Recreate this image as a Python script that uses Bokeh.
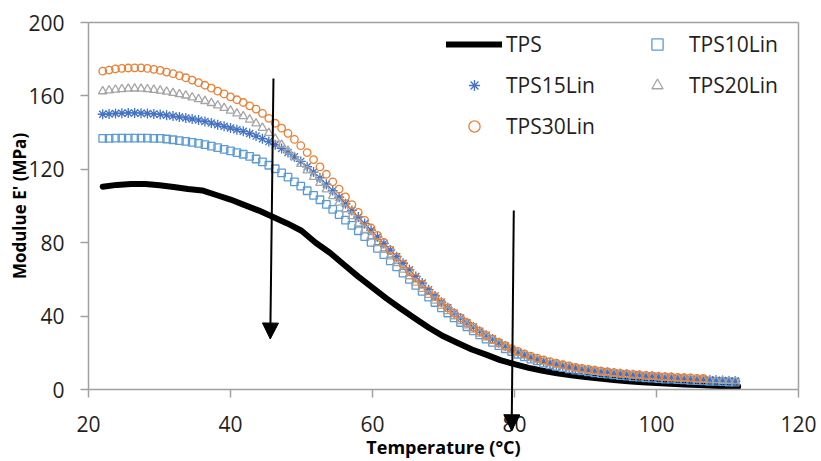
from bokeh.plotting import figure
from bokeh.models import Range1d, Legend, LegendItem, Arrow, NormalHead, LinearAxis, FixedTicker
from bokeh.embed import file_html
from bokeh.resources import INLINE

# ---- data ----
temp = [22.0, 22.9, 23.8, 24.7, 25.6, 26.5, 27.4, 28.3, 29.2, 30.1,
        31.0, 31.9, 32.8, 33.7, 34.6, 35.5, 36.4, 37.3, 38.2, 39.1,
        40.0, 40.9, 41.8, 42.7, 43.6, 44.5, 45.4, 46.3, 47.2, 48.1,
        49.0, 49.9, 50.8, 51.7, 52.6, 53.5, 54.4, 55.3, 56.2, 57.1,
        58.0, 58.9, 59.8, 60.7, 61.6, 62.5, 63.4, 64.3, 65.2, 66.1,
        67.0, 67.9, 68.8, 69.7, 70.6, 71.5, 72.4, 73.3, 74.2, 75.1,
        76.0, 76.9, 77.8, 78.7, 79.6, 80.5, 81.4, 82.3, 83.2, 84.1,
        85.0, 85.9, 86.8, 87.7, 88.6, 89.5, 90.4, 91.3, 92.2, 93.1,
        94.0, 94.9, 95.8, 96.7, 97.6, 98.5, 99.4, 100.3, 101.2, 102.1,
        103.0, 103.9, 104.8, 105.7, 106.6, 107.5, 108.4, 109.3, 110.2, 111.1]

tps_temp = [22, 24, 26, 28, 30, 32, 34, 36, 38, 40, 42, 44, 46, 48, 50, 52, 54, 56,
            58, 60, 62, 64, 66, 68, 70, 72, 74, 76, 78, 80, 82, 84, 86, 88, 90, 92,
            94, 96, 98, 100, 102, 104, 106, 108, 110, 111.5]
tps = [110.5, 111.5, 112, 112, 111.3, 110.3, 109.3, 108.5, 106, 103.5, 100.5, 97.5,
       94, 90.5, 86.5, 80, 74.5, 68, 61.5, 55.5, 49.5, 44, 38.7, 33.5, 29, 25.3, 21.8,
       19, 16, 13.8, 11.8, 10.2, 8.8, 7.7, 6.8, 6, 5.2, 4.5, 4, 3.5, 3.1, 2.7, 2.4,
       2.1, 1.8, 1.6]

tps10 = [136.8, 136.9, 137.0, 137.0, 137.0, 137.0, 137.0, 137.0, 136.9, 136.8,
         136.5, 136.1, 135.6, 135.2, 134.7, 134.1, 133.4, 132.6, 131.8, 130.9,
         130.0, 129.1, 128.2, 127.0, 125.6, 124.0, 122.2, 120.3, 118.0, 115.7,
         113.2, 110.8, 108.3, 105.8, 103.4, 100.9, 98.2, 95.3, 92.3, 89.4,
         86.5, 83.3, 80.2, 76.9, 73.5, 70.1, 66.8, 63.4, 60.0, 56.7,
         53.5, 50.3, 47.4, 44.5, 41.7, 39.0, 36.5, 34.2, 32.0, 29.8,
         27.5, 25.7, 23.9, 22.2, 20.7, 19.2, 17.8, 16.6, 15.6, 14.4,
         13.5, 12.6, 11.9, 11.2, 10.6, 10.1, 9.6, 9.1, 8.7, 8.4,
         8.0, 7.6, 7.3, 6.9, 6.7, 6.4, 6.2, 5.9, 5.7, 5.6,
         5.4, 5.2, 5.0, 4.8, 4.7, 4.5, 4.4, 4.3, 4.1, 4.0]

tps15 = [150.0, 150.2, 150.4, 150.6, 150.7, 150.7, 150.6, 150.4, 150.2, 149.9,
         149.5, 149.0, 148.5, 148.0, 147.4, 146.8, 146.1, 145.2, 144.3, 143.4,
         142.5, 141.6, 140.7, 139.5, 138.1, 136.7, 135.1, 133.4, 131.4, 129.2,
         126.8, 124.3, 121.4, 118.5, 115.3, 111.9, 108.4, 104.8, 101.2, 97.6,
         94.0, 90.4, 86.8, 83.2, 79.6, 76.0, 72.4, 68.8, 65.2, 61.6,
         58.0, 54.4, 51.0, 47.6, 44.5, 41.6, 38.9, 36.4, 34.0, 31.8,
         29.5, 27.5, 25.5, 23.7, 21.8, 20.2, 18.9, 17.6, 16.4, 15.4,
         14.5, 13.6, 12.9, 12.2, 11.6, 11.1, 10.6, 10.2, 9.7, 9.4,
         9.0, 8.6, 8.3, 8.0, 7.7, 7.4, 7.2, 6.9, 6.7, 6.5,
         6.3, 6.0, 5.8, 5.7, 5.5, 5.3, 5.1, 4.9, 4.7, 4.6]

tps20 = [162.5, 163.0, 163.4, 163.7, 163.9, 164.0, 163.9, 163.7, 163.3, 162.9,
         162.3, 161.6, 160.9, 160.2, 159.2, 158.2, 157.2, 156.1, 154.8, 153.4,
         152.0, 150.4, 148.9, 147.1, 145.0, 142.6, 139.8, 136.6, 133.4, 130.1,
         126.6, 122.9, 119.4, 115.8, 112.6, 109.0, 105.4, 101.8, 98.2, 94.5,
         90.5, 87.0, 83.3, 79.7, 76.1, 72.5, 68.9, 65.3, 61.7, 58.2,
         54.8, 51.5, 48.4, 45.5, 42.7, 39.9, 37.3, 34.9, 32.6, 30.4,
         28.4, 26.5, 24.7, 23.0, 21.4, 19.9, 18.6, 17.3, 16.2, 15.2,
         14.3, 13.5, 12.8, 12.1, 11.5, 10.9, 10.4, 9.9, 9.5, 9.1,
         8.7, 8.4, 8.1, 7.8, 7.5, 7.2, 6.9, 6.7, 6.4, 6.2,
         6.0, 5.8, 5.6, 5.4, 5.2, 5.0, 4.9, 4.7, 4.6, 4.4]

tps30 = [173.5, 174.1, 174.7, 175.0, 175.2, 175.3, 175.3, 175.0, 174.5, 173.9,
         173.0, 172.1, 171.0, 169.9, 168.6, 167.2, 165.8, 164.2, 162.6, 161.1,
         159.5, 157.9, 156.4, 154.6, 152.8, 150.5, 147.8, 145.1, 142.4, 139.6,
         136.3, 132.9, 129.1, 125.3, 121.3, 117.3, 113.2, 109.2, 105.0, 100.8,
         96.5, 92.2, 88.0, 84.0, 80.1, 76.0, 72.1, 68.2, 64.4, 60.7,
         57.3, 53.8, 50.6, 47.5, 44.5, 41.6, 39.0, 36.4, 34.0, 31.7,
         29.5, 27.5, 25.6, 23.9, 22.3, 20.8, 19.4, 18.2, 17.1, 16.1,
         15.2, 14.3, 13.5, 12.8, 12.1, 11.5, 11.0, 10.5, 10.0, 9.6,
         9.2, 8.8, 8.5, 8.2, 7.9, 7.7, 7.4, 7.2, 7.0, 6.8,
         6.6, 6.4, 6.3, 6.1, 6.0]

# arrows (data coordinates): start x, start y, end x, end y
arrows = [(46.05, 169.5, 45.6, 27.5), (79.9, 97.5, 79.6, -22.5)]

x_ticks = [20, 40, 60, 80, 100, 120]
y_ticks = [0, 40, 80, 120, 160, 200]
X_MIN, X_MAX = 20, 120
Y_MIN, Y_MAX = 0, 200

FONT = "Open Sans"
AXIS_GREY = "#A0A0A0"
TEXT = "#1F1F1F"

# layout: the axis box spans px 88..798 horizontally and 22..389 vertically;
# the drawing frame covers the whole canvas (axes are pinned to the box) so the
# second arrow can run down onto the tick labels without being clipped
W, H = 821, 461
BOX_L, BOX_R, BOX_T, BOX_B = 88, 798, 22, 389
sx = (X_MAX - X_MIN) / (BOX_R - BOX_L)
sy = (Y_MAX - Y_MIN) / (BOX_B - BOX_T)
x_lo, x_hi = X_MIN - BOX_L * sx, X_MAX + (W - BOX_R) * sx
y_lo, y_hi = Y_MIN - (H - BOX_B) * sy, Y_MAX + BOX_T * sy

p = figure(width=W, height=H, output_backend="svg", toolbar_location=None,
           x_range=Range1d(x_lo, x_hi), y_range=Range1d(y_lo, y_hi),
           min_border=0, min_border_left=0, min_border_right=0,
           min_border_top=0, min_border_bottom=0)
p.background_fill_color = "white"
p.border_fill_color = "white"
p.outline_line_color = None
p.xgrid.visible = False
p.ygrid.visible = False

for ax in (p.xaxis[0], p.yaxis[0]):
    ax.axis_line_color = AXIS_GREY
    ax.axis_line_width = 1.5
    ax.major_tick_line_color = AXIS_GREY
    ax.major_tick_line_width = 1.5
    ax.major_tick_in = 0
    ax.major_tick_out = 8
    ax.minor_tick_line_color = None
    ax.major_label_text_font = FONT
    ax.major_label_text_font_size = "21px"
    ax.major_label_text_color = TEXT
    ax.axis_label_text_font = FONT
    ax.axis_label_text_font_style = "bold"
    ax.axis_label_text_color = "black"

p.xaxis.ticker = x_ticks
p.yaxis.ticker = y_ticks
p.xaxis.bounds = (X_MIN, X_MAX)
p.yaxis.bounds = (Y_MIN, Y_MAX)
p.xaxis.fixed_location = Y_MIN
p.yaxis.fixed_location = X_MIN
p.xaxis.axis_label = "Temperature (°C)"
p.yaxis.axis_label = "Modulue E' (MPa)"
p.xaxis.axis_label_text_font_size = "18px"
p.yaxis.axis_label_text_font_size = "17px"
p.xaxis.major_label_standoff = 18
p.xaxis.axis_label_standoff = 0
p.yaxis.major_label_standoff = 16
p.yaxis.axis_label_standoff = -6

# top and right border of the axis box
top_axis = LinearAxis(ticker=FixedTicker(ticks=[]), axis_line_color=AXIS_GREY,
                      axis_line_width=1.5, major_tick_line_color=None,
                      minor_tick_line_color=None, bounds=(X_MIN, X_MAX),
                      fixed_location=Y_MAX)
right_axis = LinearAxis(ticker=FixedTicker(ticks=[]), axis_line_color=AXIS_GREY,
                        axis_line_width=1.5, major_tick_line_color=None,
                        minor_tick_line_color=None, bounds=(Y_MIN, Y_MAX),
                        fixed_location=X_MAX)
p.add_layout(top_axis, "above")
p.add_layout(right_axis, "right")

r_tps = p.line(tps_temp, tps, line_color="black", line_width=6,
               line_join="round", line_cap="round")
r10 = p.scatter(temp[:len(tps10)], tps10, marker="square", size=7.5,
                line_color="#5B9BD5", fill_color=None, line_width=1.3)
r15 = p.scatter(temp[:len(tps15)], tps15, marker="asterisk", size=10,
                line_color="#4472C4", line_width=1.3)
r20 = p.scatter(temp[:len(tps20)], tps20, marker="triangle", size=8.5,
                line_color="#A5A5A5", fill_color=None, line_width=1.3)
r30 = p.scatter(temp[:len(tps30)], tps30, marker="circle", size=7.5,
                line_color="#ED7D31", fill_color=None, line_width=1.3)

for (xs, ys, xe, ye) in arrows:
    p.add_layout(Arrow(x_start=xs, y_start=ys, x_end=xe, y_end=ye,
                       line_color="black", line_width=2,
                       end=NormalHead(size=16, fill_color="black", line_color="black")))

legend = Legend(items=[
    LegendItem(label="TPS", renderers=[r_tps]),
    LegendItem(label="TPS10Lin", renderers=[r10]),
    LegendItem(label="TPS15Lin", renderers=[r15]),
    LegendItem(label="TPS20Lin", renderers=[r20]),
    LegendItem(label="TPS30Lin", renderers=[r30]),
], orientation="horizontal", ncols=2, location=(446, 321))
legend.glyph_width = 56
legend.glyph_height = 28
legend.label_standoff = 4
legend.label_width = 110
legend.spacing = 13
legend.padding = 0
legend.margin = 0
legend.border_line_color = None
legend.background_fill_alpha = 0
legend.label_text_font = FONT
legend.label_text_font_size = "21px"
legend.label_text_color = TEXT
p.add_layout(legend, "center")

open("out.html", "w").write(file_html(p, INLINE))
